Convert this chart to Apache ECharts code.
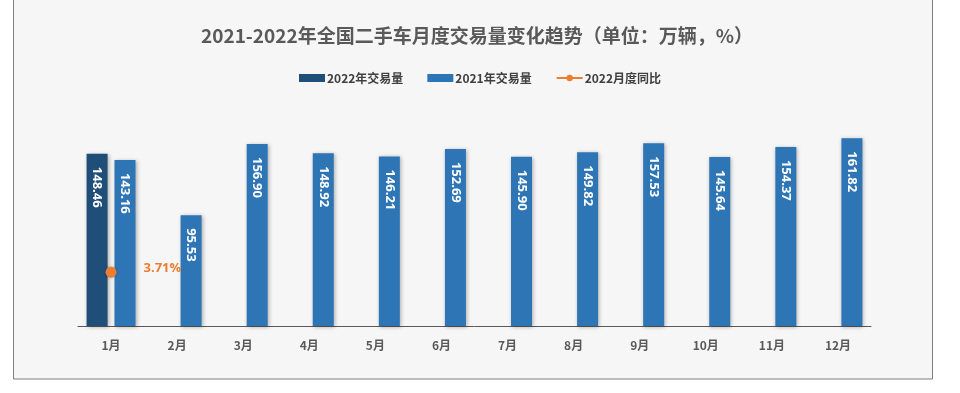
<!DOCTYPE html>
<html><head><meta charset="utf-8">
<script src="https://cdn.jsdelivr.net/npm/echarts@6/dist/echarts.min.js"></script>
<style>html,body{margin:0;padding:0;background:#fff;}#c{width:960px;height:393px;}</style>
</head><body><div id="c"></div>
<script>
const categories = ['1月','2月','3月','4月','5月','6月','7月','8月','9月','10月','11月','12月'];
const sales2022 = [148.46, null, null, null, null, null, null, null, null, null, null, null];
const sales2021 = [143.16, 95.53, 156.90, 148.92, 146.21, 152.69, 145.90, 149.82, 157.53, 145.64, 154.37, 161.82];
const yoy2022 = [3.71, null, null, null, null, null, null, null, null, null, null, null];

const chart = echarts.init(document.getElementById('c'));
const barLabel = {
  show: true, position: 'insideTop', rotate: -90, align: 'left', verticalAlign: 'middle',
  offset: [8, 0], color: '#fff', fontWeight: 'bold', fontSize: 13, fontFamily: 'Open Sans',
  formatter: p => p.value == null ? '' : p.value.toFixed(2)
};
chart.setOption({
  backgroundColor: '#ffffff',
  graphic: [{
    type: 'rect', z: -10, silent: true,
    shape: { x: 13.5, y: -2, width: 919, height: 381 },
    style: { fill: '#f6f6f6', stroke: '#7f7f7f', lineWidth: 1 }
  }],
  title: {
    text: '2021-2022年全国二手车月度交易量变化趋势（单位：万辆，%）',
    left: 472, top: 21, textAlign: 'center',
    textStyle: { fontSize: 19, fontWeight: 'bold', color: '#595959', fontFamily: 'Noto Sans CJK SC' }
  },
  legend: {
    top: 67, left: 'center', itemWidth: 26, itemHeight: 8, itemGap: 24,
    textStyle: { fontSize: 12, color: '#404040', fontWeight: 'bold', fontFamily: 'Noto Sans CJK SC', padding: [0, 0, 0, -3] },
    data: [
      { name: '2022年交易量', icon: 'rect' },
      { name: '2021年交易量', icon: 'rect' },
      { name: '2022月度同比' }
    ]
  },
  grid: { left: 78, right: 89, top: 94, bottom: 67 },
  xAxis: {
    type: 'category', data: categories,
    axisLine: { lineStyle: { color: '#595959', width: 1 } },
    axisTick: { show: false },
    axisLabel: { color: '#595959', fontWeight: 'bold', fontSize: 12, margin: 13, fontFamily: 'Noto Sans CJK SC' }
  },
  yAxis: [
    { type: 'value', min: 0, max: 200, show: false, splitLine: { show: false } },
    { type: 'value', min: 0, max: 16, show: false, splitLine: { show: false } }
  ],
  series: [
    {
      name: '2022年交易量', type: 'bar', data: sales2022, barWidth: 21, barGap: '33%',
      itemStyle: { color: '#1F4E79', shadowBlur: 4, shadowColor: 'rgba(0,0,0,0.3)', shadowOffsetX: 1, shadowOffsetY: 1 },
      label: barLabel
    },
    {
      name: '2021年交易量', type: 'bar', data: sales2021, barWidth: 21,
      itemStyle: { color: '#2E75B6', shadowBlur: 4, shadowColor: 'rgba(0,0,0,0.3)', shadowOffsetX: 1, shadowOffsetY: 1 },
      label: barLabel
    },
    {
      name: '2022月度同比', type: 'line', yAxisIndex: 1, data: yoy2022,
      symbol: 'circle', symbolSize: 11,
      lineStyle: { color: '#ED7D31', width: 3 },
      itemStyle: { color: '#ED7D31', shadowBlur: 3, shadowColor: 'rgba(0,0,0,0.3)' },
      label: {
        show: true, position: 'right', distance: 27, offset: [0, -4], color: '#ED7D31', fontWeight: 'bold', fontSize: 13,
        fontFamily: 'Open Sans', formatter: p => p.value == null ? '' : p.value.toFixed(2) + '%'
      }
    }
  ]
});
</script></body></html>
